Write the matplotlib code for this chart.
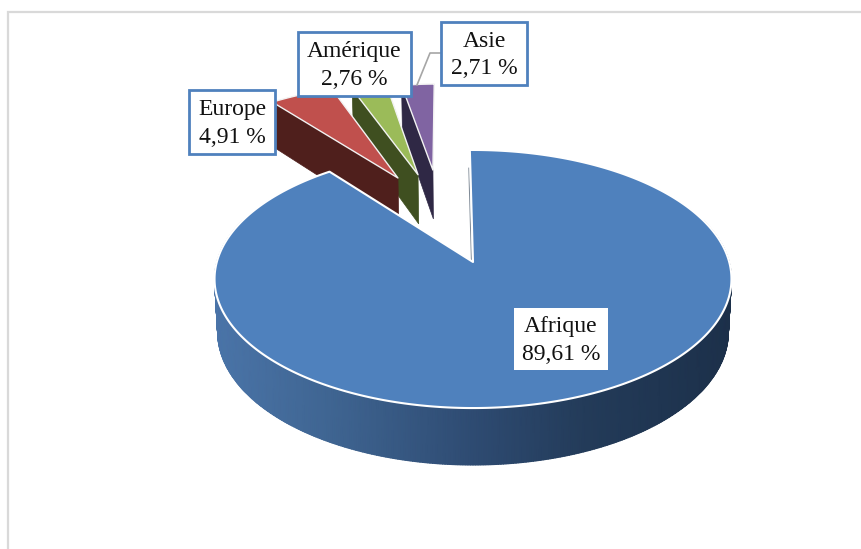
import numpy as np
import matplotlib
matplotlib.use("Agg")
import matplotlib.pyplot as plt
from matplotlib.colors import LinearSegmentedColormap
from matplotlib.patches import Polygon, Rectangle

categories = ["Afrique", "Europe", "Amérique", "Asie"]
values = [89.61, 4.91, 2.76, 2.71]
top_colors = ["#4f81bd", "#c0504d", "#9bbb59", "#8064a2"]
wall_colors = [None, "#4f1f1c", "#3f4f20", "#2f2845"]
# exploded apex of each slice on the pie plane, and its radius
apex_u = [0.0, -0.321, -0.236, -0.173]
apex_v = [0.0, 0.726, 0.757, 0.802]
radius = [1.0, 1.0, 0.97, 0.92]
# label boxes: left, right, top, bottom (pixels)
boxes = [(514, 608, 308, 370), (189, 275, 90, 154), (298, 411, 32, 96), (441, 527, 22, 85)]
bordered = [False, True, True, True]

XC, YC, PA, PB, PC = 473.0, 262.0, 0.1318, 126.8, 256.2
START = -0.8


def project(u, v):
    w = 1 + PA * v
    return XC + PC * u / w, YC - PB * v / w


def depth_of(v):
    w = 1 + PA * v
    return 57 - 34 * (w - 0.868)


def floor(u, v):
    x, y = project(u, v)
    return XC + (x - XC) * 0.988, y + depth_of(v)


def arc(a0, a1, n=200):
    return np.radians(np.linspace(a0, a1, n))


fig = plt.figure(figsize=(8.62, 5.49), dpi=100)
ax = fig.add_axes([0, 0, 1, 1])
ax.set_xlim(0, 862)
ax.set_ylim(549, 0)
ax.axis("off")
plt.rcParams["font.family"] = ["Liberation Serif", "DejaVu Serif"]

# chart frame
ax.plot([8, 8, 862], [549, 12, 12], color="#d9d9d9", lw=1.6, solid_joinstyle="miter", zorder=0)

fractions = np.array(values) / sum(values) * 360
ends = START + np.cumsum(fractions)
starts = ends - fractions

# exploded slices, back to front
for i in [3, 2, 1]:
    a = arc(starts[i], ends[i], 60)
    us = apex_u[i] + radius[i] * np.sin(a)
    vs = apex_v[i] + radius[i] * np.cos(a)
    xa, ya = project(apex_u[i], apex_v[i])
    xb, yb = floor(apex_u[i], apex_v[i])
    xo, yo = project(us[0], vs[0])
    xf, yf = floor(us[0], vs[0])
    ax.add_patch(Polygon([(xo, yo), (xa, ya), (xb, yb), (xf, yf)], closed=True,
                         fc=wall_colors[i], ec=wall_colors[i], lw=0.5, zorder=2 + (3 - i)))
    xs, ys = project(us, vs)
    pts = [(xa, ya)] + list(zip(xs, ys))
    ax.add_patch(Polygon(pts, closed=True, fc=top_colors[i], ec="#f2f2f2", lw=1.0,
                         joinstyle="round", zorder=2 + (3 - i)))

# main slice side wall with horizontal shading
wall_cmap = LinearSegmentedColormap.from_list(
    "wall", [(0, "#4a74a8"), (0.22, "#3f6592"), (0.5, "#2e4b72"), (0.72, "#233b59"), (1, "#1c304a")])
t = arc(70, 290, 441)
xt, yt = project(np.sin(t), np.cos(t))
xf, yf = floor(np.sin(t), np.cos(t))
X = np.vstack([xt, xf])
Y = np.vstack([yt, yf])
ax.pcolormesh(X, Y, np.clip((X - 215) / 517, 0, 1), shading="gouraud", cmap=wall_cmap,
              vmin=0, vmax=1, zorder=6)

# main slice top
a = arc(starts[0], ends[0], 500)
xs, ys = project(np.sin(a), np.cos(a))
ax.add_patch(Polygon([(XC, YC)] + list(zip(xs, ys)), closed=True, fc=top_colors[0],
                     ec="white", lw=1.5, joinstyle="round", zorder=7))

# thin visible edge of the main slice on its open side
r = np.array([0.0, 0.82])
xl, yl = project(r * np.sin(np.radians(START)), r * np.cos(np.radians(START)))
ax.plot(xl - 1.5, yl, color="#7f8a96", lw=0.8, zorder=6.5)

# leader line for Asie
ax.plot([441, 430, 417], [53, 53, 85], color="#a6a6a6", lw=1.2, zorder=8)

# labels
for name, val, (l, r_, t_, b), has_border in zip(categories, values, boxes, bordered):
    ax.add_patch(Rectangle((l, t_), r_ - l, b - t_, fc="white",
                           ec="#4f81bd" if has_border else "white",
                           lw=2.0 if has_border else 0, zorder=9))
    label = f"{name}\n{val:.2f} %".replace(".", ",")
    ax.text((l + r_) / 2, (t_ + b) / 2 + 1.5, label, ha="center", va="center", fontsize=17,
            color="#111111", linespacing=1.42, zorder=10)

fig.savefig("out.png", dpi=100)
